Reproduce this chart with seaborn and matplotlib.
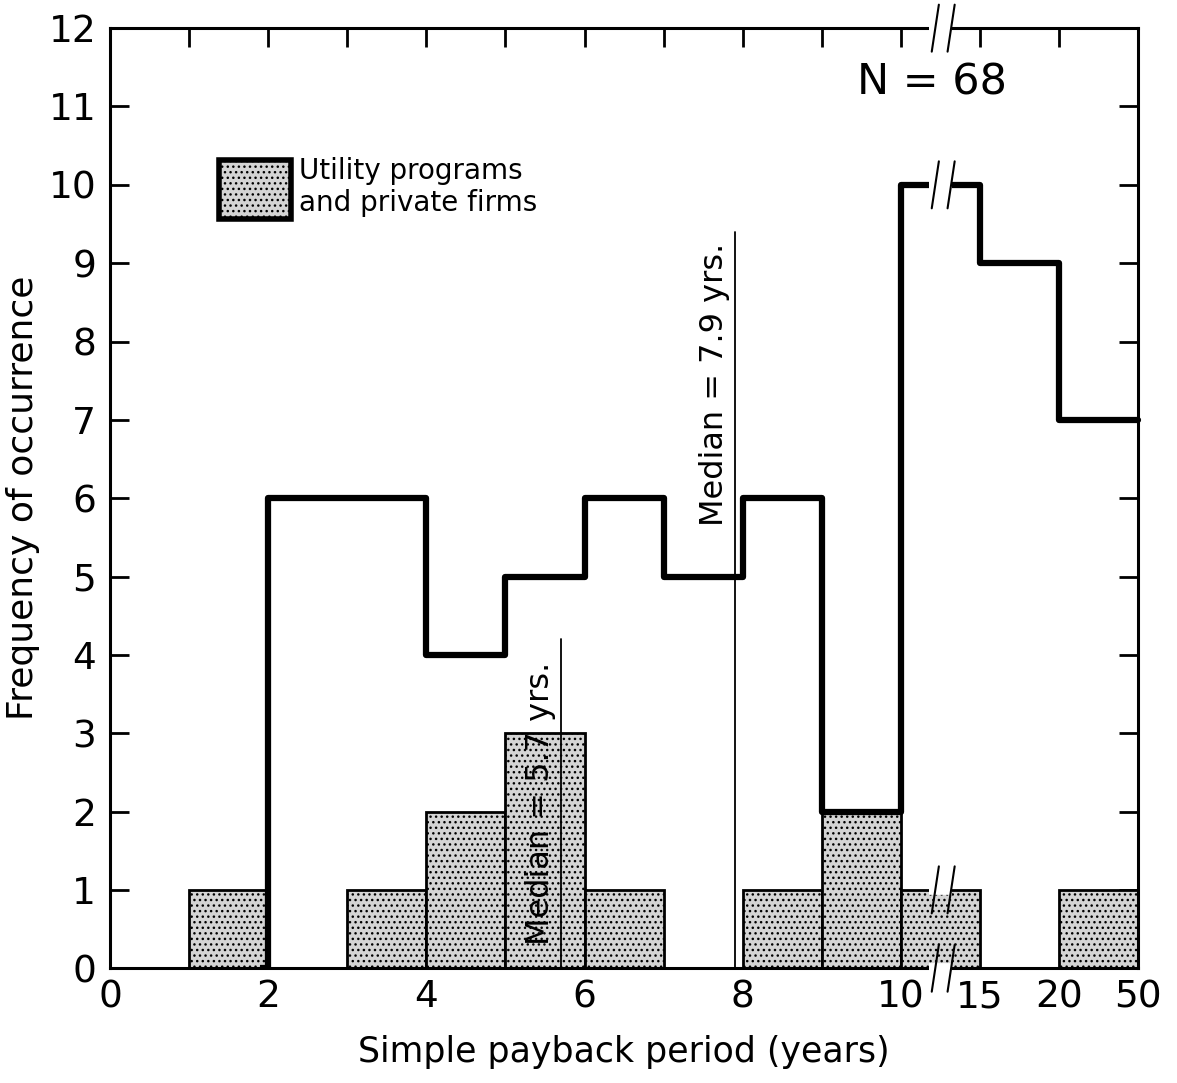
import numpy as np
import pandas as pd
import seaborn as sns
import matplotlib.pyplot as plt
from matplotlib.patches import Patch, Rectangle

# Data: bins on a positional axis (0-10 yrs linear, then 10-15, 15-20, 20-50)
bin_pos = list(range(13))
tick_pos = [0, 2, 4, 6, 8, 10, 11, 12, 13]
tick_labels = ["0", "2", "4", "6", "8", "10", "15", "20", "50"]
all_counts = [0, 0, 6, 6, 4, 5, 6, 5, 6, 2, 10, 9, 7]
utility_counts = [0, 1, 0, 1, 2, 3, 1, 0, 1, 2, 1, 0, 1]
median_all = 7.9
median_all_top = 9.4
median_util = 5.7
median_util_top = 4.2

df = pd.DataFrame({"pos": [p + 0.5 for p in bin_pos], "all": all_counts, "util": utility_counts})

sns.set_style("white")
plt.rcParams["font.family"] = ["DejaVu Sans"]
plt.rcParams["text.color"] = "black"
plt.rcParams["axes.labelcolor"] = "black"
plt.rcParams["xtick.color"] = "black"
plt.rcParams["ytick.color"] = "black"

fig = plt.figure(figsize=(11.77, 10.83), dpi=100)
ax = fig.add_axes([0.0935, 0.106, 0.8735, 0.868])

# shaded bars (utility programs and private firms)
sns.histplot(data=df, x="pos", weights="util", bins=13, binrange=(0, 13), element="bars", fill=True,
             color="#d4d4d4", edgecolor="black", linewidth=2, alpha=1, hatch="...", ax=ax)
# total outline
sns.histplot(data=df, x="pos", weights="all", bins=13, binrange=(0, 13), element="step", fill=False,
             color="black", linewidth=4.5, ax=ax)
ax.lines[-1].set_clip_path(Rectangle((1.9, 0), 20, 20, transform=ax.transData))

# median lines
ax.plot([median_all, median_all], [0, median_all_top], color="black", lw=1.3)
ax.plot([median_util, median_util], [0, median_util_top], color="black", lw=1.3)
ax.text(median_all - 0.06, 7.45, "Median = 7.9 yrs.", rotation=90, ha="right", va="center",
        fontsize=23, zorder=7)
ax.text(median_util - 0.06, 2.1, "Median = 5.7 yrs.", rotation=90, ha="right", va="center",
        fontsize=23, zorder=7)

ax.text(9.45, 11.3, "N = 68", fontsize=31, ha="left", va="center")

# axis-break marks
def draw_break(x, y):
    ax.plot([x - 0.1, x + 0.2], [y, y], color="white", lw=7, clip_on=False, zorder=5,
            solid_capstyle="butt")
    for dx in (0, 0.2):
        ax.plot([x - 0.06 + dx, x + 0.03 + dx], [y - 0.3, y + 0.3], color="black", lw=1.5,
                clip_on=False, zorder=6)

draw_break(10.45, 12)
draw_break(10.45, 0)
draw_break(10.45, 10)
draw_break(10.45, 1)

ax.set_xlim(0, 13)
ax.set_ylim(0, 12)
ax.set_xticks(tick_pos)
ax.set_xticklabels(tick_labels)
ax.set_xticks([1, 3, 5, 7, 9], minor=True)
ax.set_yticks(range(13))
ax.tick_params(axis="x", which="both", bottom=False, top=True, direction="in", length=14,
               width=2, labelsize=27, pad=8)
ax.tick_params(axis="y", which="both", left=True, right=True, direction="in", length=14,
               width=2, labelsize=27, pad=10)
for s in ax.spines.values():
    s.set_linewidth(2.2)
    s.set_color("black")

ax.set_xlabel("Simple payback period (years)", fontsize=25, labelpad=14)
ax.set_ylabel("Frequency of occurrence", fontsize=26, labelpad=6)

leg = ax.legend(handles=[Patch(facecolor="#d4d4d4", edgecolor="black", linewidth=4, hatch="...")],
                labels=["Utility programs\nand private firms"], loc="upper left",
                bbox_to_anchor=(0.095, 0.875), frameon=False, fontsize=20,
                handlelength=2.6, handleheight=2.9, handletextpad=0.3, borderaxespad=0)

plt.savefig("out.png", dpi=100)
plt.close()
